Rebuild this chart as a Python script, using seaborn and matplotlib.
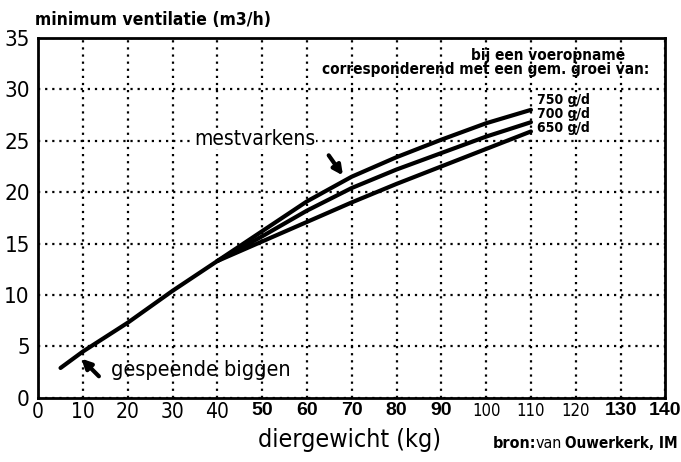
import matplotlib
matplotlib.use('Agg')
import matplotlib.pyplot as plt
import numpy as np
import pandas as pd
import seaborn as sns

sns.set_style('white')
plt.rcParams['font.family'] = ['DejaVu Sans']
plt.rcParams['font.stretch'] = 'condensed'
plt.rcParams['text.color'] = 'black'

# data
x_biggen = [5, 10, 20, 30, 40]
y_biggen = [2.9, 4.5, 7.3, 10.4, 13.3]

x_mest = [40, 50, 60, 70, 80, 90, 100, 110]
y_750 = [13.3, 16.2, 19.1, 21.5, 23.4, 25.1, 26.7, 28.0]
y_700 = [13.3, 15.7, 18.2, 20.4, 22.2, 23.8, 25.4, 26.8]
y_650 = [13.3, 15.2, 17.1, 19.0, 20.8, 22.5, 24.2, 25.9]
groei_labels = ['750 g/d', '700 g/d', '650 g/d']

x_ticks = [0, 10, 20, 30, 40, 50, 60, 70, 80, 90, 100, 110, 120, 130, 140]
bold_ticks = [50, 60, 70, 80, 90, 130, 140]
y_ticks = [0, 5, 10, 15, 20, 25, 30, 35]

fig = plt.figure(figsize=(6.81, 4.62), dpi=100)
ax = fig.add_axes([0.056, 0.139, 0.921, 0.779])

sns.lineplot(x=x_biggen, y=y_biggen, color='black', linewidth=3, ax=ax)
for ys in [y_750, y_700, y_650]:
    sns.lineplot(x=x_mest, y=ys, color='black', linewidth=3, ax=ax)

ax.set_xlim(0, 139.5)
ax.set_ylim(0, 35)
ax.set_xticks(x_ticks)
ax.set_yticks(y_ticks)
ax.set_xticklabels([str(t) for t in x_ticks])
ax.set_yticklabels([str(t) for t in y_ticks], fontsize=16)
for lbl, t in zip(ax.get_xticklabels(), x_ticks):
    if t in bold_ticks:
        lbl.set_fontfamily(['Liberation Sans', 'DejaVu Sans'])
        lbl.set_fontweight('bold')
        lbl.set_fontsize(14)
    elif t >= 100:
        lbl.set_fontsize(12)
    else:
        lbl.set_fontsize(15)
ax.tick_params(axis='x', direction='in', length=4, width=1.5, pad=3, colors='black')
ax.tick_params(axis='y', direction='in', length=0, pad=6, colors='black')

ax.grid(True, color='black', linestyle=(0, (1, 2.2)), linewidth=1.6)
for s in ax.spines.values():
    s.set_color('black')
    s.set_linewidth(2)
ax.set_xlabel('')
ax.set_ylabel('')

# curve labels
for lbl, y in zip(groei_labels, [29.0, 27.6, 26.2]):
    ax.text(111.3, y, lbl, fontsize=10, fontweight='bold', va='center', ha='left')
ax.text(131, 33.3, 'bij een voeropname', fontsize=11, fontweight='bold',
        ha='right', va='center')
ax.text(136.4, 31.9, 'corresponderend met een gem. groei van:', fontsize=11,
        fontweight='bold', ha='right', va='center')

ax.text(48.4, 25.2, 'mestvarkens', fontsize=15, ha='center', va='center',
        bbox=dict(facecolor='white', edgecolor='none', pad=0.5))
ax.annotate('', xy=(68.4, 21.4), xytext=(64.5, 23.8),
            arrowprops=dict(arrowstyle='-|>', color='black', lw=3, mutation_scale=14))

ax.text(16.2, 2.7, 'gespeende biggen', fontsize=15.5, ha='left', va='center')
ax.annotate('', xy=(9.2, 4.0), xytext=(14.0, 1.9),
            arrowprops=dict(arrowstyle='-|>', color='black', lw=3, mutation_scale=14))

fig.text(0.051, 0.957, 'minimum ventilatie (m3/h)', fontsize=12.5, fontweight='bold',
         ha='left', va='center')
fig.text(0.514, 0.048, 'diergewicht (kg)', fontsize=18, ha='center', va='center')
fig.text(0.724, 0.041, 'bron:', fontsize=11.5, fontweight='bold', ha='left', va='center')
fig.text(0.786, 0.041, 'van', fontsize=11.5, ha='left', va='center')
fig.text(0.829, 0.041, 'Ouwerkerk, IM', fontsize=11, fontweight='bold', ha='left', va='center')

fig.savefig('out.png', dpi=100)
